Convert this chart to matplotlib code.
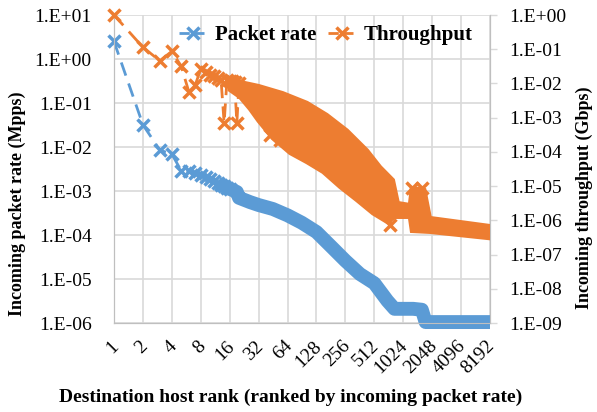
import matplotlib
matplotlib.use("Agg")
import numpy as np
import matplotlib.pyplot as plt
import matplotlib.transforms as mtransforms
from matplotlib.ticker import FixedLocator, FuncFormatter, NullLocator
from matplotlib.lines import Line2D

plt.rcParams['font.family'] = ['Liberation Serif', 'DejaVu Serif']

BLUE = '#5B9BD5'
ORANGE = '#ED7D31'
GRID = '#D9D9D9'

# packet rate (Mpps), single visible points
pkt_rank = [1, 2, 3, 4, 5, 6, 7, 8, 9, 10, 11, 12, 13, 14, 15, 16]
pkt_rate = [2.5, 0.032, 0.0085, 0.0069, 0.0029, 0.0028, 0.0026, 0.0023,
            0.0021, 0.0019, 0.0017, 0.0015, 0.0014, 0.0013, 0.00118, 0.00112]
# packet rate, dense part (centre of the band)
pkt_band_rank = [12, 16, 19, 20, 26, 32, 45, 64, 90, 128, 180, 256, 362, 512,
                 700, 830, 1300, 1600, 1750, 8192]
pkt_band_rate = [1.5e-3, 1.12e-3, 0.95e-3, 0.70e-3, 5.6e-4, 4.8e-4, 3.9e-4, 2.8e-4,
                 1.9e-4, 1.17e-4, 5.6e-5, 2.6e-5, 1.3e-5, 8.0e-6, 3.2e-6,
                 2.1e-6, 2.1e-6, 2.0e-6, 1.05e-6, 1.05e-6]

# throughput (Gbps), single visible points
thr_rank = [1, 2, 3, 4, 5, 6, 7, 8, 9, 10, 11, 12, 13, 14, 15, 16, 17, 18, 19, 20]
thr_val = [1.0, 0.114, 0.046, 0.087, 0.032, 0.0058, 0.0090, 0.026, 0.022, 0.018,
           0.016, 0.014, 0.013, 0.0007, 0.013, 0.012, 0.012, 0.011, 0.0007, 0.010]
# throughput, dense part: upper and lower edge of the band
thr_hi_rank = [16, 20.5, 32, 57, 102, 164, 266, 430, 588, 800, 900, 1200,
               1260, 1700, 1940, 8192]
thr_hi = [0.0144, 0.011, 0.0084, 0.0052, 0.0027, 0.0012, 4.2e-4, 1.1e-4,
          3.6e-5, 1.5e-5, 3.2e-6, 2.8e-6, 8.8e-6, 7.7e-6, 1.17e-6, 6.8e-7]
thr_lo_rank = [16, 20.5, 26, 32, 45, 68, 102, 150, 226, 337, 496, 700, 840,
               1200, 1260, 1940, 8192]
thr_lo = [0.0065, 0.004, 0.0018, 8e-4, 2.5e-4, 9.3e-5, 5.0e-5, 2.6e-5, 9.4e-6,
          3.9e-6, 1.6e-6, 8.9e-7, 1.26e-6, 1.26e-6, 4.9e-7, 4.6e-7, 3.0e-7]
# throughput outliers below the band
thr_spike_rank = [41.6, 53, 750, 1260, 1600]
thr_spike_val = [3.1e-4, 2.2e-4, 7.3e-7, 8.8e-6, 8.8e-6]
thr_spike_top = [0.004, 0.003, 1.5e-6, 3e-6, 3e-6]

xticks = [2 ** k for k in range(14)]

fig = plt.figure(figsize=(5.97, 4.12), dpi=100, facecolor='white')
ax = fig.add_axes([114 / 597, 1 - 323 / 412, 376 / 597, 308 / 412])
ax2 = ax.twinx()

ax.set_xscale('log', base=2)
ax.set_yscale('log')
ax2.set_yscale('log')
ax.set_xlim(1, 8192)
ax.set_ylim(1e-6, 1e1)
ax2.set_ylim(1e-9, 1e0)

# packet rate
ax.plot(pkt_band_rank, pkt_band_rate, '-', color=BLUE, linewidth=10,
        solid_capstyle='butt', solid_joinstyle='round', zorder=3, clip_on=False)
ax.plot(pkt_rank, pkt_rate, '--', color=BLUE, linewidth=2, dashes=(5, 3),
        marker='x', markersize=8, markeredgewidth=2.5, zorder=4, clip_on=False)

# throughput
ax2.fill(np.r_[thr_hi_rank, thr_lo_rank[::-1]], np.r_[thr_hi, thr_lo[::-1]],
         color=ORANGE, linewidth=3, edgecolor=ORANGE, zorder=3)
ax2.plot(thr_rank, thr_val, '--', color=ORANGE, linewidth=2, dashes=(5, 3),
         marker='x', markersize=8, markeredgewidth=2.5, zorder=4, clip_on=False)
ax2.vlines(thr_spike_rank, thr_spike_val, thr_spike_top, color=ORANGE,
           linewidth=2, linestyles=(0, (5, 3)), zorder=4)
ax2.plot(thr_spike_rank, thr_spike_val, 'x', color=ORANGE, markersize=8,
         markeredgewidth=2.5, zorder=4)

# axes styling
ax.xaxis.set_major_locator(FixedLocator(xticks))
ax.xaxis.set_minor_locator(NullLocator())
ax.set_xticklabels([str(t) for t in xticks], rotation=45, ha='right', va='top',
                   rotation_mode='anchor', fontsize=14)
ax.tick_params(axis='x', length=0, pad=9)
shift = mtransforms.ScaledTranslation(-4 / 100, -2 / 100, fig.dpi_scale_trans)
for lab in ax.get_xticklabels():
    lab.set_transform(lab.get_transform() + shift)

fmt = FuncFormatter(lambda v, p: '1.E%+03d' % int(round(np.log10(v))))
ax.yaxis.set_major_locator(FixedLocator([10.0 ** k for k in range(-6, 2)]))
ax.yaxis.set_minor_locator(NullLocator())
ax.yaxis.set_major_formatter(fmt)
ax.tick_params(axis='y', length=0, pad=16, labelsize=14)

ax2.yaxis.set_major_locator(FixedLocator([10.0 ** k for k in range(-9, 1)]))
ax2.yaxis.set_minor_locator(NullLocator())
ax2.yaxis.set_major_formatter(fmt)
ax2.tick_params(axis='y', length=5, width=1, color=GRID, pad=9, labelsize=14)

ax.grid(True, color=GRID, linewidth=1.2)
ax.set_axisbelow(True)
ax.spines['top'].set_visible(False)
ax2.spines['top'].set_visible(False)
for s in ['left', 'bottom', 'right']:
    ax2.spines[s].set_color('#BFBFBF')
    ax.spines[s].set_color('#BFBFBF')

# legend
h1 = Line2D([], [], color=BLUE, linestyle='--', linewidth=2, marker='x',
            markersize=8, markeredgewidth=2.5)
h2 = Line2D([], [], color=ORANGE, linestyle='--', linewidth=2, marker='x',
            markersize=8, markeredgewidth=2.5)
ax2.legend([h1, h2], ['Packet rate', 'Throughput'], loc='center',
           bbox_to_anchor=(326 / 597, 1 - 35 / 412), bbox_transform=fig.transFigure,
           ncol=2, frameon=False, handlelength=1.3, columnspacing=0.6,
           handletextpad=0.4, prop={'weight': 'bold', 'size': 15})

fig.text(291 / 597, 1 - 397 / 412, 'Destination host rank (ranked by incoming packet rate)',
         ha='center', va='center', fontsize=14, fontweight='bold')
fig.text(17 / 597, 1 - 204 / 412, 'Incoming packet rate (Mpps)', rotation=90,
         ha='center', va='center', fontsize=13, fontweight='bold')
fig.text(584 / 597, 1 - 198 / 412, 'Incoming throughput (Gbps)', rotation=90,
         ha='center', va='center', fontsize=13, fontweight='bold')

fig.savefig('out.png', dpi=100)
